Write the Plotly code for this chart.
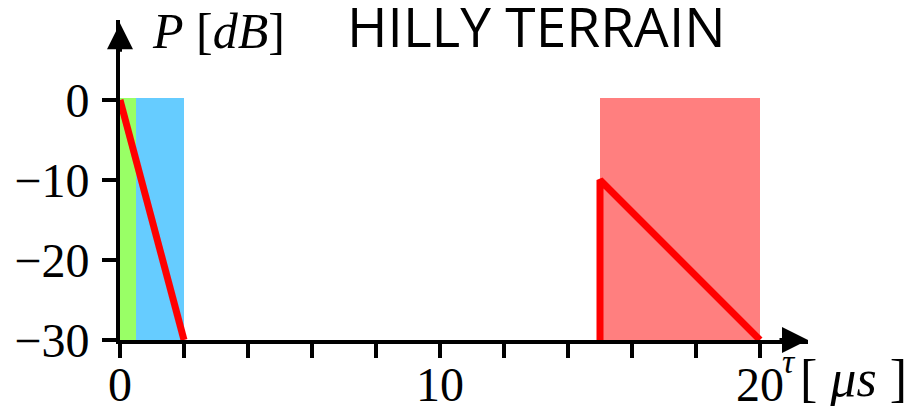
import plotly.graph_objects as go

# zones de retard (début, fin) en microsecondes et leurs couleurs
zone_debut = [0, 0.5, 15]
zone_fin = [0.5, 2, 20]
zone_haut = 0.3
zone_couleurs = ["#99FF66", "#66CCFF", "#FF7F7F"]

# profil de puissance (retard, puissance en dB)
profil1_x = [0, 2]
profil1_y = [0, -30]
profil2_x = [15, 15, 20]
profil2_y = [-30, -10, -30]

y_ticks = [0, -10, -20, -30]
x_ticks = [0, 10, 20]

fig = go.Figure()

for d, f, c in zip(zone_debut, zone_fin, zone_couleurs):
    fig.add_trace(go.Bar(
        x=[(d + f) / 2], y=[zone_haut + 30], base=-30, width=[f - d],
        marker=dict(color=c, line=dict(width=0)), showlegend=False,
    ))

fig.add_trace(go.Scatter(x=profil1_x, y=profil1_y, mode="lines",
                         line=dict(color="#FF0000", width=7), showlegend=False, cliponaxis=False))
fig.add_trace(go.Scatter(x=profil2_x, y=profil2_y, mode="lines",
                         line=dict(color="#FF0000", width=7), showlegend=False, cliponaxis=False))

police_tick = dict(family="Liberation Serif", size=48, color="black")

# la page html ajoute 8 px de marge, d'où 906x398
fig.update_layout(
    width=906, height=398,
    margin=dict(l=112, r=106, t=12, b=66),
    plot_bgcolor="white", paper_bgcolor="white",
    barmode="overlay", bargap=0,
    xaxis=dict(range=[0, 21.5], showgrid=False, zeroline=False, automargin=False,
               showline=True, linecolor="black", linewidth=4,
               tickvals=x_ticks, ticks="outside", ticklen=14, tickwidth=4, tickcolor="black",
               tickfont=police_tick, ticklabelstandoff=-15,
               minor=dict(dtick=2, tick0=0, ticks="outside", ticklen=14, tickwidth=4, tickcolor="black", showgrid=False),
               layer="below traces"),
    yaxis=dict(range=[-30, 10], showgrid=False, zeroline=False, automargin=False,
               showline=True, linecolor="black", linewidth=4,
               tickvals=y_ticks, ticks="outside", ticklen=14, tickwidth=4, tickcolor="black",
               tickfont=police_tick, ticklabelstandoff=3, layer="below traces"),
)

# flèches des axes
fig.add_annotation(x=21.5, y=-30, xref="x", yref="y", ax=-30, ay=0, text="",
                   showarrow=True, arrowhead=2, arrowsize=1.3, arrowwidth=4, arrowcolor="black")
fig.add_annotation(x=0, y=9.6, xref="x", yref="y", ax=0, ay=30, text="",
                   showarrow=True, arrowhead=2, arrowsize=1.3, arrowwidth=4, arrowcolor="black")

# textes
fig.add_annotation(x=0.0436, y=0.965, xref="paper", yref="paper", xanchor="left", yanchor="middle",
                   text="<i>P</i> [<i>dB</i>]", showarrow=False,
                   font=dict(family="Liberation Serif", size=50, color="black"))
fig.add_annotation(x=0.605, y=0.982, xref="paper", yref="paper", xanchor="center", yanchor="middle",
                   text="HILLY TERRAIN", showarrow=False,
                   font=dict(family="Open Sans", size=55, color="black"))
fig.add_annotation(x=0.96, y=-0.066, xref="paper", yref="paper", xanchor="left", yanchor="middle",
                   text="<i>τ</i>", showarrow=False,
                   font=dict(family="Liberation Serif", size=34, color="black"))
fig.add_annotation(x=0.985, y=-0.119, xref="paper", yref="paper", xanchor="left", yanchor="middle",
                   text="[ <i>μs</i> ]", showarrow=False,
                   font=dict(family="Liberation Serif", size=52, color="black"))

fig.write_html("out.html")
